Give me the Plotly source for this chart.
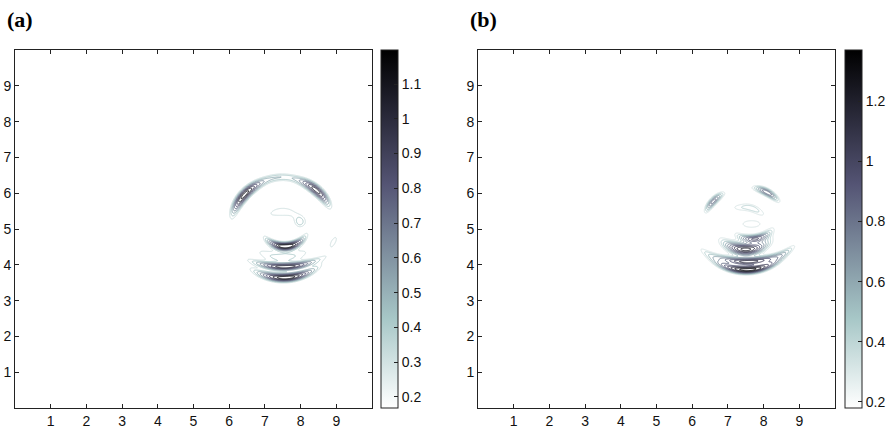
import numpy as np
import plotly.graph_objects as go

# ---------------- data ----------------
# Each arc: a curved wave band on a circle (centre cx,cy, radius r),
# centred at angle th (deg), angular spread sth (deg), radial spread w, peak amp.
a_arc_cx = [7.50, 7.50, 7.50, 7.50, 7.55, 7.50, 7.50, 7.50]
a_arc_cy = [4.95, 4.95, 4.95, 4.50, 5.27, 5.70, 6.40, 5.45]
a_arc_r = [1.47, 1.47, 1.50, 0.98, 0.75, 1.49, 2.46, 1.81]
a_arc_th = [137, 50, 92, 90, 273, 270, 272, 273]
a_arc_sth = [18, 16, 16, 30, 32, 28, 15.5, 20]
a_arc_w = [0.105, 0.105, 0.09, 0.15, 0.08, 0.15, 0.07, 0.09]
a_arc_amp = [1.15, 1.05, 0.42, 0.37, 1.20, 0.45, 1.00, 1.19]
# small isolated blobs
a_blob_x = [7.97, 8.92]
a_blob_y = [5.17, 4.64]
a_blob_sx = [0.13, 0.18]
a_blob_sy = [0.13, 0.07]
a_blob_rot = [0, 60]
a_blob_amp = [0.36, 0.38]

b_arc_cx = [7.50, 7.50, 7.65, 7.50, 7.50, 7.50]
b_arc_cy = [4.90, 4.90, 5.55, 5.50, 6.44, 5.56]
b_arc_r = [1.26, 1.27, 0.82, 1.07, 2.35, 1.70]
b_arc_th = [136, 62, 276, 270, 272, 272]
b_arc_sth = [12.5, 13.5, 25, 26, 17, 24]
b_arc_w = [0.08, 0.08, 0.08, 0.13, 0.075, 0.085]
b_arc_amp = [0.85, 0.90, 0.90, 1.25, 1.10, 1.36]
b_blob_x = [7.66, 7.38, 7.83]
b_blob_y = [5.14, 5.60, 5.50]
b_blob_sx = [0.36, 0.30, 0.25]
b_blob_sy = [0.14, 0.10, 0.09]
b_blob_rot = [0, 0, -25]
b_blob_amp = [0.37, 0.36, 0.34]

a_cmin, a_cmax = 0.168, 1.198
b_cmin, b_cmax = 0.18, 1.37
a_levels = [0.3, 0.4, 0.5, 0.6, 0.7, 0.8, 0.9, 1.0, 1.1]
b_levels = [0.3, 0.4, 0.5, 0.6, 0.7, 0.8, 0.9, 1.0, 1.1, 1.2, 1.3]
a_cbar_ticks = [0.2, 0.3, 0.4, 0.5, 0.6, 0.7, 0.8, 0.9, 1.0, 1.1]
a_cbar_text = ["0.2", "0.3", "0.4", "0.5", "0.6", "0.7", "0.8", "0.9", "1", "1.1"]
b_cbar_ticks = [0.2, 0.4, 0.6, 0.8, 1.0, 1.2]
b_cbar_text = ["0.2", "0.4", "0.6", "0.8", "1", "1.2"]
axis_ticks = [1, 2, 3, 4, 5, 6, 7, 8, 9]
panel_titles = ["(a)", "(b)"]

# ---------------- build fields ----------------
grid = np.linspace(0, 10, 601)
X, Y = np.meshgrid(grid, grid)


def build(cx, cy, r, th, sth, w, amp, bx, by, bsx, bsy, brot, bamp):
    Z = np.zeros_like(X)
    for i in range(len(cx)):
        dx, dy = X - cx[i], Y - cy[i]
        rho = np.hypot(dx, dy)
        ang = np.degrees(np.arctan2(dy, dx))
        d = (ang - th[i] + 180) % 360 - 180
        Z += amp[i] * np.exp(-0.5 * ((rho - r[i]) / w[i]) ** 2) * np.exp(-0.5 * (d / sth[i]) ** 2)
    for i in range(len(bx)):
        t = np.radians(brot[i])
        dx, dy = X - bx[i], Y - by[i]
        u = dx * np.cos(t) + dy * np.sin(t)
        v = -dx * np.sin(t) + dy * np.cos(t)
        Z += bamp[i] * np.exp(-0.5 * ((u / bsx[i]) ** 2 + (v / bsy[i]) ** 2))
    return Z


Za = build(a_arc_cx, a_arc_cy, a_arc_r, a_arc_th, a_arc_sth, a_arc_w, a_arc_amp,
           a_blob_x, a_blob_y, a_blob_sx, a_blob_sy, a_blob_rot, a_blob_amp)
Zb = build(b_arc_cx, b_arc_cy, b_arc_r, b_arc_th, b_arc_sth, b_arc_w, b_arc_amp,
           b_blob_x, b_blob_y, b_blob_sx, b_blob_sy, b_blob_rot, b_blob_amp)

# reversed MATLAB "bone"
bone_pos = [0.0, 0.25, 0.625, 1.0]
bone_rgb = [(255, 255, 255), (167, 199, 199), (84, 84, 116), (0, 0, 0)]
bone_r = [[p, "rgb(%d,%d,%d)" % c] for p, c in zip(bone_pos, bone_rgb)]


def bone_color(v, vmin, vmax):
    t = min(max((v - vmin) / (vmax - vmin), 0), 1)
    ch = [int(round(np.interp(t, bone_pos, [c[k] for c in bone_rgb]))) for k in range(3)]
    return "rgb(%d,%d,%d)" % tuple(ch)


W, H = 894, 429
FONT = "Liberation Sans, Arial, sans-serif"
AX = "#222222"

fig = go.Figure()

panels = [
    dict(Z=Za, cmin=a_cmin, cmax=a_cmax, lev=a_levels, ticks=a_cbar_ticks, text=a_cbar_text,
         xa="x", ya="y", cb0=381),
    dict(Z=Zb, cmin=b_cmin, cmax=b_cmax, lev=b_levels, ticks=b_cbar_ticks, text=b_cbar_text,
         xa="x2", ya="y2", cb0=845),
]
top_px, bot_px = 50, 408

for p in panels:
    for lv in p["lev"]:
        fig.add_trace(go.Contour(
            x=grid, y=grid, z=p["Z"], xaxis=p["xa"], yaxis=p["ya"],
            autocontour=False,
            contours=dict(coloring="none", start=lv, end=lv, size=1),
            line=dict(width=1, color=bone_color(lv, p["cmin"], p["cmax"])),
            showscale=False, hoverinfo="skip"))
    fig.add_trace(go.Scatter(
        x=[-5, -5], y=[-5, -5], xaxis=p["xa"], yaxis=p["ya"], mode="markers",
        marker=dict(color=[p["cmin"], p["cmax"]], colorscale=bone_r, cmin=p["cmin"], cmax=p["cmax"],
                    showscale=True, size=1,
                    colorbar=dict(x=p["cb0"] / W, xanchor="left", xpad=0,
                                  y=1 - top_px / H, yanchor="top", ypad=0,
                                  len=(bot_px - top_px) / H, lenmode="fraction",
                                  thickness=17, thicknessmode="pixels",
                                  outlinewidth=1, outlinecolor=AX,
                                  ticks="inside", ticklen=4, tickcolor=AX,
                                  tickvals=p["ticks"], ticktext=p["text"],
                                  tickfont=dict(family=FONT, size=14, color="#111"))),
        showlegend=False, hoverinfo="skip"))

axis_common = dict(range=[0, 10], tickvals=axis_ticks, ticks="inside", ticklen=4,
                   tickcolor=AX, showline=True, linecolor=AX, linewidth=1, mirror="ticks",
                   showgrid=False, zeroline=False, tickfont=dict(family=FONT, size=14, color="#111"))

ydom = [1 - bot_px / H, 1 - top_px / H]
fig.update_layout(
    width=W, height=H, margin=dict(l=0, r=0, t=0, b=0),
    paper_bgcolor="white", plot_bgcolor="white", showlegend=False,
    xaxis=dict(domain=[15 / W, 372 / W], anchor="y", **axis_common),
    yaxis=dict(domain=ydom, anchor="x", **axis_common),
    xaxis2=dict(domain=[478 / W, 835 / W], anchor="y2", **axis_common),
    yaxis2=dict(domain=ydom, anchor="x2", **axis_common),
    annotations=[
        dict(text="<b>%s</b>" % panel_titles[0], x=5 / W, y=1 - 20 / H, xref="paper", yref="paper",
             xanchor="left", yanchor="middle", showarrow=False,
             font=dict(family="Liberation Serif, Times New Roman, serif", size=22, color="black")),
        dict(text="<b>%s</b>" % panel_titles[1], x=468 / W, y=1 - 20 / H, xref="paper", yref="paper",
             xanchor="left", yanchor="middle", showarrow=False,
             font=dict(family="Liberation Serif, Times New Roman, serif", size=22, color="black")),
    ],
)

fig.write_html("out.html")
